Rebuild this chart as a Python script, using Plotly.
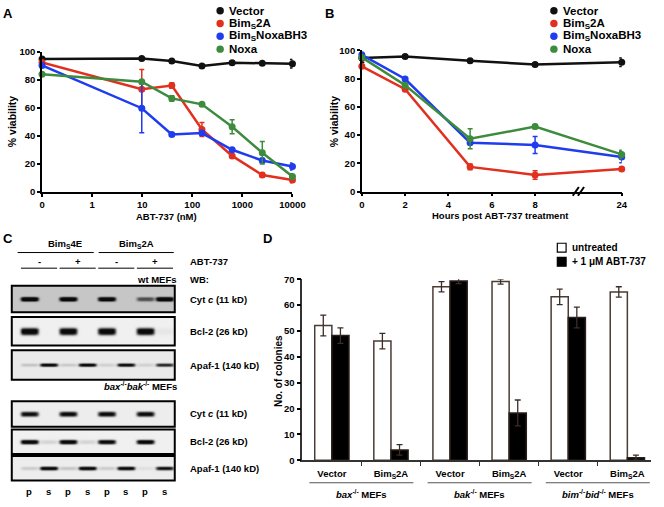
import numpy as np
import plotly.graph_objects as go

W, H = 664, 507
FONT = "Liberation Sans, Arial, sans-serif"


def px(x):
    return x / W


def py(y):
    return 1 - y / H


# ---------------- Panel A data ----------------
conc_nM = [0, 9.8, 39, 156, 625, 2500, 10000]
conc_ticks = [0, 1, 10, 100, 1000, 10000]
conc_ticklabels = ["0", "1", "10", "100", "1000", "10000"]
a_vector = [95, 95.3, 93.5, 90, 92.3, 92, 91.6]
a_vector_err = [1, 1, 1, 1, 1, 1, 3]
a_bim2a = [92.5, 73.4, 76, 44.6, 25.7, 12, 8.5]
a_bim2a_err = [1, 14, 2, 5, 1, 1.5, 2]
a_noxabh3 = [90.4, 59.8, 41.1, 42, 30.1, 22.4, 18.2]
a_noxabh3_err = [1, 17.5, 1, 1.5, 1, 1.5, 2.5]
a_noxa = [84.1, 78.7, 66.8, 62.6, 46.5, 28, 11]
a_noxa_err = [1, 1, 2, 1, 5, 8, 2]

# ---------------- Panel B data ----------------
hours = [0, 2, 5, 8, 24]
hour_ticks = [0, 2, 4, 6, 8, 24]
b_vector = [94.5, 95.6, 92.6, 90, 91.5]
b_vector_err = [3, 1, 1, 1, 3]
b_bim2a = [88.7, 72.5, 17.5, 11.8, 16]
b_bim2a_err = [1, 1.5, 2, 3, 1]
b_noxabh3 = [96.8, 79.7, 34.6, 33, 24.5]
b_noxabh3_err = [1, 1, 1, 6, 4]
b_noxa = [95, 75.3, 37.4, 46, 26.3]
b_noxa_err = [1, 1, 7, 1.5, 3]

series_names = ["Vector", "Bim<sub>S</sub>2A", "Bim<sub>S</sub>NoxaBH3", "Noxa"]
series_colors = ["#111111", "#e2301f", "#1f3cef", "#3d8b3d"]

# ---------------- Panel D data ----------------
d_construct = ["Vector", "Bim<sub>S</sub>2A"] * 3
d_genotype = ["<i>bax</i><sup>-/-</sup> MEFs",
              "<i>bak</i><sup>-/-</sup> MEFs",
              "<i>bim</i><sup>-/-</sup><i>bid</i><sup>-/-</sup> MEFs"]
d_untreated = [52.1, 46.1, 67.1, 69.1, 63.2, 65.1]
d_untreated_err = [4, 3, 2, 1, 3, 2]
d_abt = [48.2, 4.0, 69.3, 18.3, 55.2, 1.0]
d_abt_err = [3, 2, 1, 5, 4, 1]

# ---------------- Panel C (blot band intensities, lanes p s p s p s p s) ----------------
lane_labels = ["p", "s", "p", "s", "p", "s", "p", "s"]
blot_cytc_wt = [0.95, 0, 0.95, 0, 0.9, 0, 0.4, 0.95]
blot_bcl2_wt = [1, 0, 1, 0, 1, 0, 1, 0.03]
blot_apaf_wt = [0.12, 0.95, 0.1, 0.95, 0.08, 0.9, 0.08, 0.7]
blot_cytc_dko = [0.85, 0, 0.9, 0, 0.9, 0, 0.9, 0]
blot_bcl2_dko = [0.95, 0.08, 0.95, 0.08, 0.9, 0, 0.95, 0]
blot_apaf_dko = [0.1, 1, 0.12, 1, 0.1, 0.95, 0.04, 0.8]

fig = go.Figure()

# ---- Panel A traces
a_x = [c if c > 0 else 0.1 for c in conc_nM]
for name, col, ys, es in zip(series_names, series_colors,
                             [a_vector, a_bim2a, a_noxabh3, a_noxa],
                             [a_vector_err, a_bim2a_err, a_noxabh3_err, a_noxa_err]):
    fig.add_trace(go.Scatter(
        x=a_x, y=ys, mode="lines+markers", name=name,
        line=dict(color=col, width=2.5), marker=dict(color=col, size=7),
        error_y=dict(type="data", array=es, color=col, thickness=1.5, width=2.5),
        cliponaxis=False, showlegend=False, xaxis="x", yaxis="y"))

# ---- Panel B traces (broken axis: 24 h drawn after the break)
BREAK_POS, LAST_POS = 10, 12


def hour_pos(h):
    return h if h <= 8 else LAST_POS


b_x = [hour_pos(h) for h in hours]
for name, col, ys, es in zip(series_names, series_colors,
                             [b_vector, b_bim2a, b_noxabh3, b_noxa],
                             [b_vector_err, b_bim2a_err, b_noxabh3_err, b_noxa_err]):
    fig.add_trace(go.Scatter(
        x=b_x, y=ys, mode="lines+markers", name=name,
        line=dict(color=col, width=2.5), marker=dict(color=col, size=7),
        error_y=dict(type="data", array=es, color=col, thickness=1.5, width=2.5),
        cliponaxis=False, showlegend=False, xaxis="x2", yaxis="y2"))

# ---- Panel D bars
d_x = list(range(len(d_construct)))
ERRC = "#3b2d26"
fig.add_trace(go.Bar(
    x=d_x, y=d_untreated, name="untreated",
    marker=dict(color="white", line=dict(color="#4a3b33", width=1.5)),
    error_y=dict(type="data", array=d_untreated_err, color=ERRC, thickness=1.3, width=3),
    cliponaxis=False, showlegend=False, xaxis="x3", yaxis="y3"))
fig.add_trace(go.Bar(
    x=d_x, y=d_abt, name="+ 1 μM ABT-737",
    marker=dict(color="black", line=dict(color="#2a1f1a", width=1.5)),
    error_y=dict(type="data", array=d_abt_err, color=ERRC, thickness=1.3, width=3),
    cliponaxis=False, showlegend=False, xaxis="x3", yaxis="y3"))

# ---- Panel C blots (pixel-unit axes)
lane_x = 27 + 19.8 * np.arange(len(lane_labels))
BOX_X0, BOX_X1 = 9, 176
blots = [
    dict(vals=blot_cytc_wt, top=286, bot=313, h=2.4, bg=0.18, label="Cyt <i>c</i> (11 kD)"),
    dict(vals=blot_bcl2_wt, top=318, bot=347, h=3.6, bg=0.03, label="Bcl-2 (26 kD)"),
    dict(vals=blot_apaf_wt, top=352, bot=382, h=1.6, bg=0.05, label="Apaf-1 (140 kD)"),
    dict(vals=blot_cytc_dko, top=404, bot=430, h=2.6, bg=0.04, label="Cyt <i>c</i> (11 kD)"),
    dict(vals=blot_bcl2_dko, top=433, bot=458, h=2.4, bg=0.03, label="Bcl-2 (26 kD)"),
    dict(vals=blot_apaf_dko, top=460, bot=485, h=2.0, bg=0.04, label="Apaf-1 (140 kD)"),
]
shapes = []
annotations = []


def T(x, y, text, size=9.5, xa="center", ya="middle", angle=0, weight="bold"):
    annotations.append(dict(
        x=px(x), y=py(y), xref="paper", yref="paper", text=text, showarrow=False,
        xanchor=xa, yanchor=ya, textangle=angle,
        font=dict(size=size, family=FONT, color="black", weight=weight)))


for b in blots:
    xs = np.arange(BOX_X0 + 0.5, BOX_X1, 0.5)
    ys = np.arange(b["top"] + 0.5, b["bot"], 0.5)
    X, Y = np.meshgrid(xs, ys)
    cy = (b["top"] + b["bot"]) / 2
    z = np.full(X.shape, b["bg"])
    for lx, v in zip(lane_x, b["vals"]):
        z += 1.2 * v * np.exp(-((X - lx) / 9.0) ** 6) * np.exp(-np.abs((Y - cy) / b["h"]) ** 3)
    z = np.clip(z, 0, 1)
    fig.add_trace(go.Heatmap(
        x=xs, y=ys, z=z, zmin=0, zmax=1, showscale=False, hoverinfo="skip",
        colorscale=[[0, "#f8f8f8"], [0.5, "#6e6e6e"], [1, "#0a0a0a"]],
        zsmooth="best", xaxis="x4", yaxis="y4"))
    shapes.append(dict(type="rect", xref="x4", yref="y4", x0=BOX_X0, x1=BOX_X1,
                       y0=b["top"], y1=b["bot"], line=dict(color="black", width=2)))
    T(190, cy, b["label"], xa="left")

# Panel C headers
T(64, 243, "Bim<sub>S</sub>4E")
T(137, 243, "Bim<sub>S</sub>2A")
for x0, x1 in [(15, 93), (98, 175)]:
    shapes.append(dict(type="line", xref="paper", yref="paper", x0=px(x0), x1=px(x1),
                       y0=py(252), y1=py(252), line=dict(color="black", width=1)))
for i, sign in enumerate(["-", "+", "-", "+"]):
    cx = (lane_x[2 * i] + lane_x[2 * i + 1]) / 2
    T(cx, 261, sign)
    shapes.append(dict(type="line", xref="paper", yref="paper", x0=px(cx - 18.5), x1=px(cx + 18.5),
                       y0=py(268), y1=py(268), line=dict(color="black", width=1)))
T(190, 261, "ABT-737", xa="left")
T(180, 280, "wt MEFs", xa="right")
T(190, 280, "WB:", xa="left")
T(180, 388, "<i>bax</i><sup>-/-</sup><i>bak</i><sup>-/-</sup> MEFs", xa="right")
for lx, lab in zip(lane_x, lane_labels):
    T(lx, 496, lab)

# Panel letters
T(5, 8, "A", size=13)
T(335, 8, "B", size=13)
T(5, 238, "C", size=13)
T(271, 238, "D", size=13)

# Axis titles
T(168, 215, "ABT-737 (nM)")
T(10, 118, "% viability", size=10.5, angle=-90)
T(510, 214.5, "Hours post ABT-737 treatment")
T(340, 118, "% viability", size=10.5, angle=-90)
T(283, 373, "No. of colonies", size=10, angle=-90)

# Legends A & B (manual, compact)
for lx0, tx0 in [(222.5, 230), (564.5, 572)]:
    for i, (name, col) in enumerate(zip(series_names, series_colors)):
        yy = 4.8 + 13.1 * i
        shapes.append(dict(type="circle", xref="paper", yref="paper",
                           x0=px(lx0 - 3.8), x1=px(lx0 + 3.8), y0=py(yy + 3.8), y1=py(yy - 3.8),
                           fillcolor=col, line=dict(color=col, width=0)))
        T(tx0, yy, name, size=11.5, xa="left")

# Legend D
shapes.append(dict(type="rect", xref="paper", yref="paper", x0=px(568), x1=px(577),
                   y0=py(251.5), y1=py(242.5), fillcolor="white", line=dict(color="black", width=1.2)))
T(581, 247, "untreated", size=10, xa="left")
shapes.append(dict(type="rect", xref="paper", yref="paper", x0=px(568), x1=px(577),
                   y0=py(266), y1=py(257), fillcolor="black", line=dict(color="black", width=1.2)))
T(581, 261.5, "+ 1 μM ABT-737", size=10, xa="left")

# Panel D group brackets
for gi, label in enumerate(d_genotype):
    g0, g1 = 2 * gi, 2 * gi + 1
    shapes.append(dict(type="line", xref="x3", yref="paper", x0=g0 - 0.38, x1=min(g1 + 0.38, 5.4),
                       y0=py(487.3), y1=py(487.3), line=dict(color="#555555", width=1.2)))
    annotations.append(dict(x=(g0 + g1) / 2, y=py(498.5), xref="x3", yref="paper", text=label,
                            showarrow=False, xanchor="center", yanchor="middle",
                            font=dict(size=9.5, family=FONT, color="black", weight="bold")))

# Panel B axis break
for dx in (-0.12, 0.12):
    shapes.append(dict(type="line", xref="x2", yref="paper",
                       x0=BREAK_POS - 0.14 + dx, x1=BREAK_POS + 0.14 + dx,
                       y0=py(194), y1=py(185), line=dict(color="black", width=2)))

axis_common = dict(showline=True, linecolor="black", linewidth=1.5, ticks="outside",
                   tickcolor="black", tickwidth=1.5, ticklen=3, showgrid=False, zeroline=False,
                   tickfont=dict(size=9.5, family=FONT, color="black", weight="bold"))

fig.update_layout(
    width=W, height=H, margin=dict(l=0, r=0, t=0, b=0),
    paper_bgcolor="white", plot_bgcolor="rgba(0,0,0,0)",
    font=dict(family=FONT, size=9.5, color="black", weight="bold"),
    showlegend=False, barmode="group", bargap=0.42, bargroupgap=0,
    xaxis=dict(domain=[px(40), px(296.6)], anchor="y", type="log", range=[-1, 4],
               tickvals=[c if c > 0 else 0.1 for c in conc_ticks], ticktext=conc_ticklabels,
               **axis_common),
    yaxis=dict(domain=[py(190), py(47)], anchor="x", range=[0, 100],
               tickvals=[0, 20, 40, 60, 80, 100], **axis_common),
    xaxis2=dict(domain=[px(367.7), px(634)], anchor="y2", range=[0, LAST_POS],
                tickvals=[hour_pos(h) for h in hour_ticks], ticktext=[str(h) for h in hour_ticks],
                **axis_common),
    yaxis2=dict(domain=[py(189.7), py(45.3)], anchor="x2", range=[0, 100],
                tickvals=[0, 20, 40, 60, 80, 100], **axis_common),
    xaxis3=dict(domain=[px(306.7), 1], anchor="y3", range=[-0.5, 5.4],
                tickvals=d_x, ticktext=d_construct,
                showline=True, linecolor="#333333", linewidth=1.5, showgrid=False, zeroline=False,
                ticks="outside", ticklen=4, tickcolor="rgba(0,0,0,0)",
                minor=dict(tickmode="array", tickvals=[0.5, 1.5, 2.5, 3.5, 4.5], ticks="outside",
                           ticklen=4, tickcolor="#333333", tickwidth=1.2),
                tickfont=dict(size=9.5, family=FONT, color="black", weight="bold")),
    yaxis3=dict(domain=[py(464.3), py(279.3)], anchor="x3", range=[0, 70],
                tickvals=[0, 10, 20, 30, 40, 50, 60, 70], **{**axis_common, "linecolor": "#333333", "ticklen": 4}),
    xaxis4=dict(domain=[0, px(185)], anchor="y4", range=[0, 185], visible=False),
    yaxis4=dict(domain=[py(500), py(280)], anchor="x4", range=[500, 280], visible=False),
    shapes=shapes, annotations=annotations,
)

fig.write_html("out.html", config={"displayModeBar": False},
               post_script="document.body.style.margin='0';document.body.style.overflow='hidden';")
